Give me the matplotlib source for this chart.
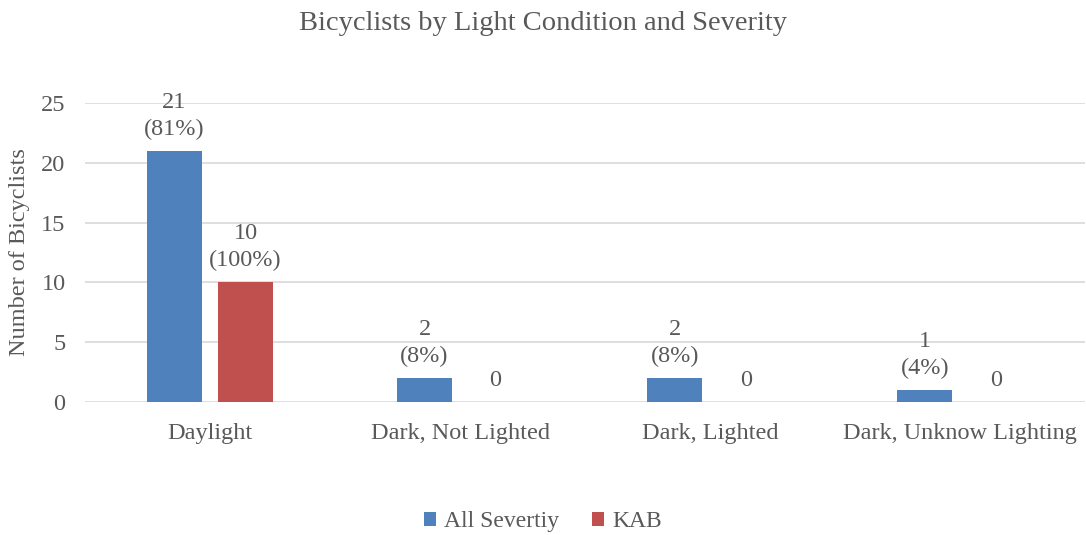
import matplotlib
matplotlib.use("Agg")
import matplotlib.pyplot as plt
import numpy as np

categories = ["Daylight", "Dark, Not Lighted", "Dark, Lighted", "Dark, Unknow Lighting"]
all_severity = [21, 2, 2, 1]
kab = [10, 0, 0, 0]
all_pct = ["81%", "8%", "8%", "4%"]
kab_pct = ["100%", None, None, None]
series_names = ["All Severtiy", "KAB"]
y_ticks = [0, 5, 10, 15, 20, 25]

plt.rcParams["font.family"] = ["Liberation Serif", "DejaVu Serif"]
text_color = "#595959"
blue = "#4f81bd"
red = "#c0504d"
fs = 17.5

fig = plt.figure(figsize=(10.86, 5.35), dpi=100)
ax = fig.add_axes([0.0783, 0.2486, 0.921, 0.559])

x = np.arange(len(categories))
width = 0.22
off = 0.142
b1 = ax.bar(x - off, all_severity, width, color=blue, label=series_names[0], zorder=3)
b2 = ax.bar(x + off, kab, width, color=red, label=series_names[1], zorder=3)

def label_text(v, p):
    return f"{v}\n({p})" if p else f"{v}"

for xi, v, p in zip(x - off, all_severity, all_pct):
    ax.annotate(label_text(v, p), (xi, v), xytext=(0, 8), textcoords="offset points",
                ha="center", va="bottom", fontsize=fs, color=text_color, linespacing=1.35)
for xi, v, p in zip(x + off, kab, kab_pct):
    ax.annotate(label_text(v, p), (xi, v), xytext=(0, 8), textcoords="offset points",
                ha="center", va="bottom", fontsize=fs, color=text_color, linespacing=1.35)

ax.set_xlim(-0.5, len(categories) - 0.5)
ax.set_ylim(0, 25)
ax.set_yticks(y_ticks)
ax.set_xticks(x)
ax.set_xticklabels(categories)
ax.tick_params(axis="both", length=0, labelsize=fs, colors=text_color)
ax.tick_params(axis="x", pad=15)
ax.tick_params(axis="y", pad=14)
ax.grid(axis="y", color="#d9d9d9", linewidth=1.2, zorder=0)
for s in ax.spines.values():
    s.set_visible(False)

ax.set_ylabel("Number of Bicyclists", fontsize=fs, color=text_color, labelpad=8)
fig.suptitle("Bicyclists by Light Condition and Severity", fontsize=20.5, color=text_color, y=0.98)

fig.legend(handles=[b1, b2], labels=series_names, loc="lower center", ncol=2,
           bbox_to_anchor=(0.5, -0.035), frameon=False, fontsize=17, labelcolor=text_color,
           handlelength=0.5, handleheight=0.5, handletextpad=0.35, columnspacing=1.4)

fig.savefig("out.png", dpi=100)
